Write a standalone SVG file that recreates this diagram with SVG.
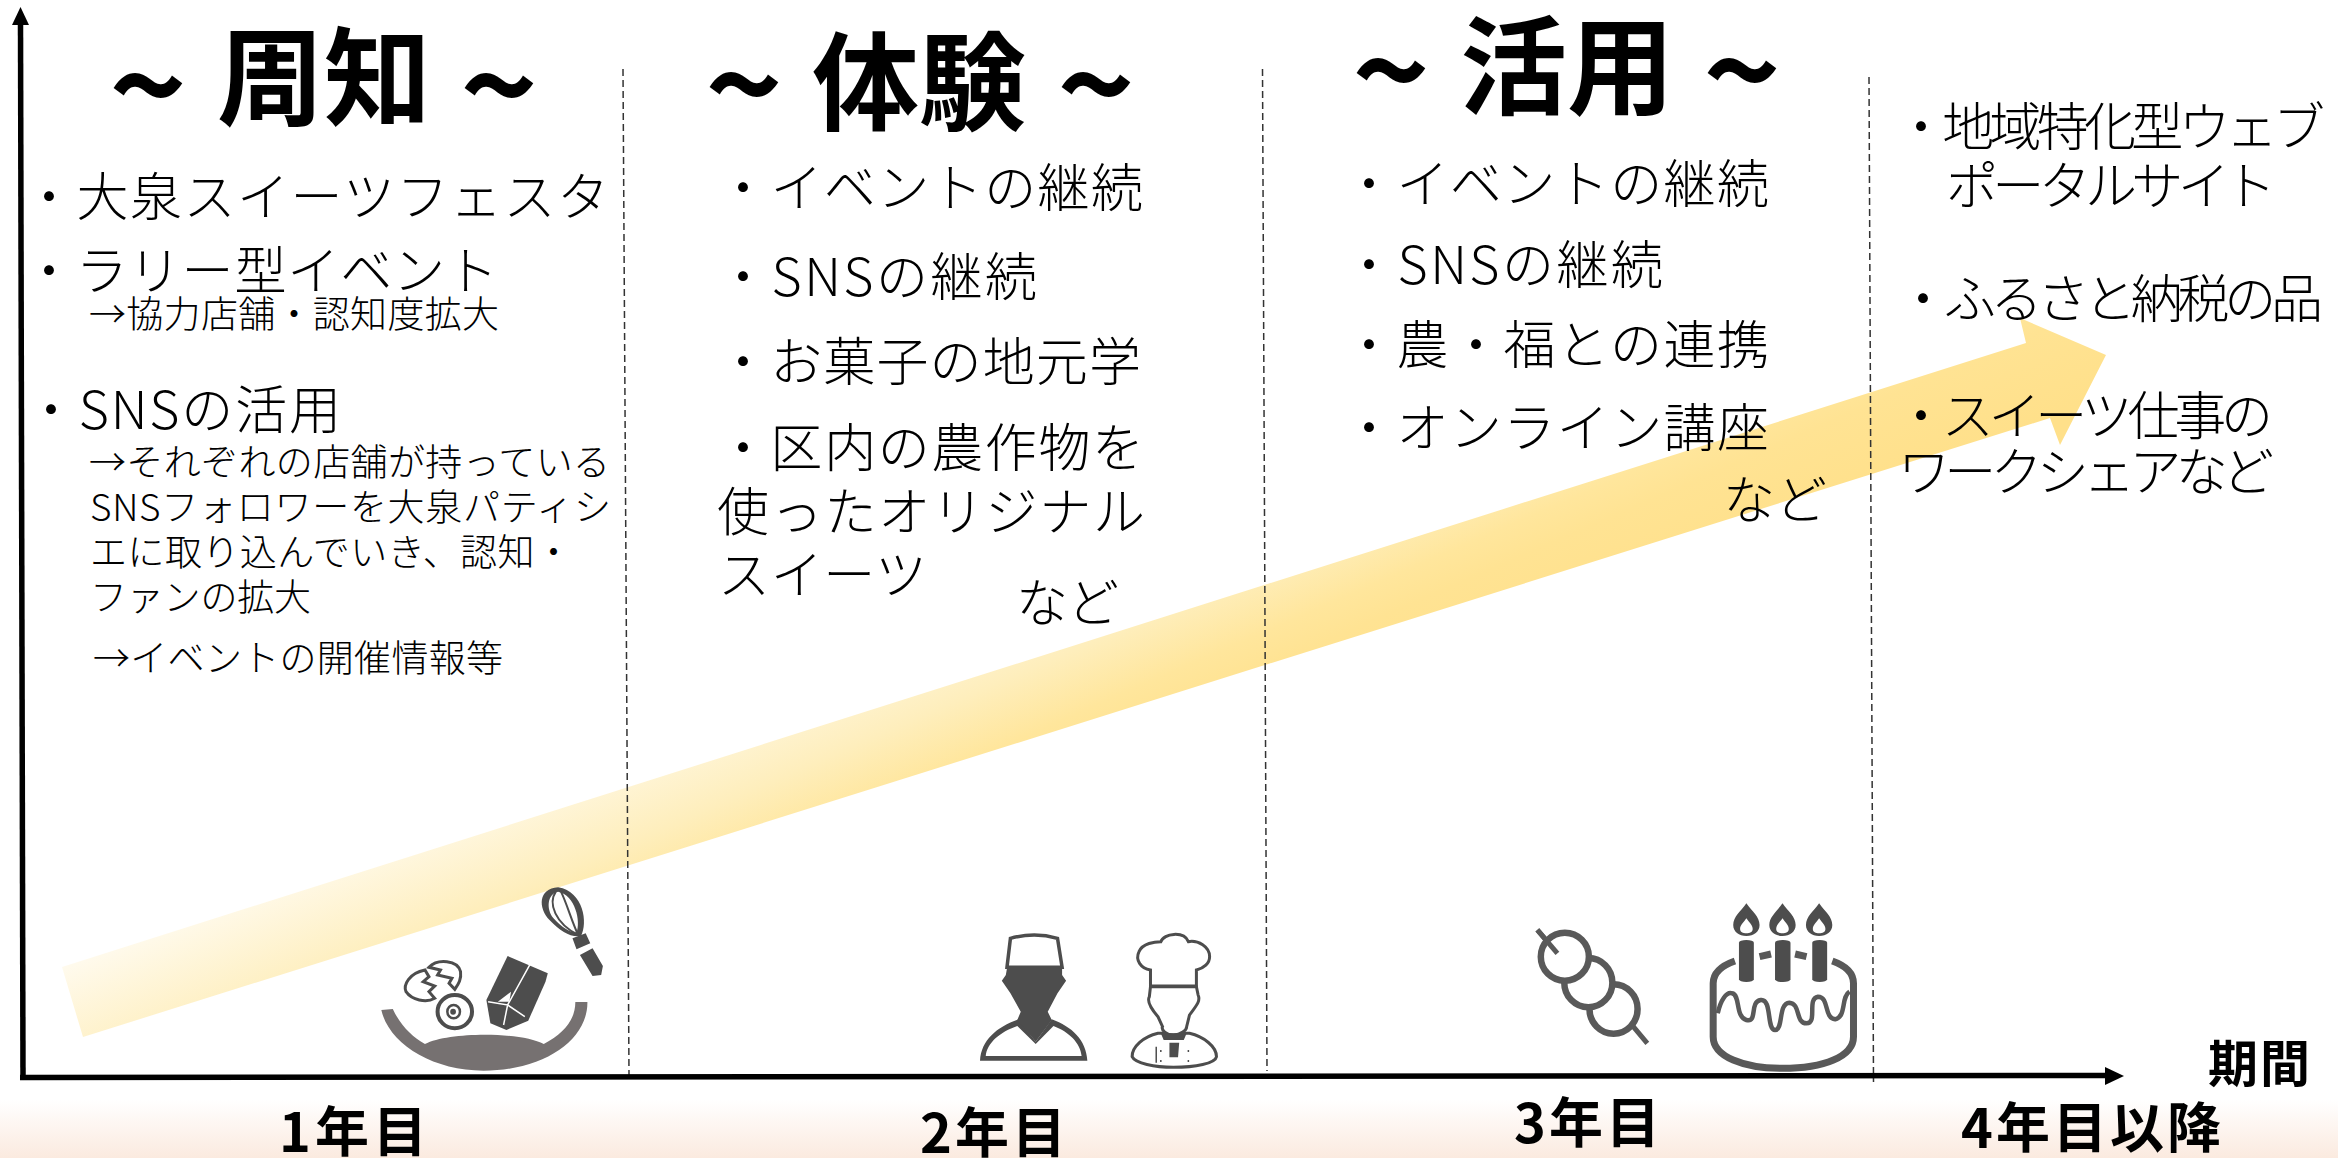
<svg xmlns="http://www.w3.org/2000/svg" xmlns:xlink="http://www.w3.org/1999/xlink" width="2338" height="1158" viewBox="0 0 2338 1158">
<style>
text{font-family:"Noto Sans CJK JP","Noto Sans",sans-serif;fill:#000}
.b{font-size:52px;font-weight:300}
.s{font-size:37px;font-weight:300}
.h{font-size:107px;font-weight:700}
.t{font-size:132px;font-weight:700}
.y{font-size:54px;font-weight:700}
.p{font-size:50px;font-weight:700}
.dash{stroke:#333;stroke-width:1.5;stroke-dasharray:7 4;fill:none}
.ic{vector-effect:non-scaling-stroke}
.d{fill:#4d4d4d;stroke:none}
.w{fill:#fff;stroke:#4d4d4d;vector-effect:non-scaling-stroke}
.wl{fill:none;stroke:#fff;stroke-width:1.5;vector-effect:non-scaling-stroke}
</style>
<defs>
<linearGradient id="band" gradientUnits="userSpaceOnUse" x1="155.400" y1="919.400" x2="273" y2="1190">
<stop offset="0" stop-color="#fffbf0"/><stop offset=".405" stop-color="#feeebc"/><stop offset=".605" stop-color="#ffe69c"/><stop offset=".716" stop-color="#ffe393"/><stop offset="1" stop-color="#ffe08a"/>
</linearGradient>
<linearGradient id="floor" x1="0" y1="0" x2="0" y2="1">
<stop offset="0" stop-color="#fff"/><stop offset="1" stop-color="#fbeadf"/>
</linearGradient>
<path id="flame" d="M0,130 C-10,155 -23,170 -23,195 C-23,215 -13,228 0,228 C13,228 23,215 23,195 C23,170 10,155 0,130 Z M0,175 C-5,188 -11,195 -11,207 C-11,216 -6,220 0,220 C6,220 11,216 11,207 C11,195 5,188 0,175 Z" fill="#4d4d4d" fill-rule="evenodd"/>
</defs>
<rect width="2338" height="1158" fill="#fff"/>
<rect x="0" y="1100" width="2338" height="58" fill="url(#floor)"/>

<g id="growth-arrow"><polygon points="62,967 2026,343 2020,318 2106,355 2060,445 2050,418 83,1037" fill="url(#band)"/></g>

<g id="connectors">
<path class="dash" d="M623,69 L629,1075"/>
<path class="dash" d="M1262.500,69 L1267,1071"/>
<path class="dash" d="M1869,77 L1873.500,1082"/>
<path d="M20.500,22 L23,1078" stroke="#000" stroke-width="5.500" fill="none"/>
<polygon points="20.500,7 29,25 12,25" fill="#000"/>
<path d="M20,1077.500 L2107,1075.500" stroke="#000" stroke-width="5.500" fill="none"/>
<polygon points="2124,1076 2105,1067 2105,1085" fill="#000"/>
</g>

<g id="phase-1">
<text class="h" y="117"><tspan class="t" x="109" y="135">~</tspan> <tspan x="217" y="117">周知</tspan> <tspan class="t" x="460" y="135">~</tspan></text>
<text class="b" x="23" y="216" textLength="586">・大泉スイーツフェスタ</text>
<text class="b" x="23" y="290" textLength="475">・ラリー型イベント</text>
<text class="s" x="89" y="328" textLength="410">→協力店舗・認知度拡大</text>
<text class="b" x="25" y="429" textLength="316">・SNSの活用</text>
<text class="s" x="89" y="476" textLength="521">→それぞれの店舗が持っている</text>
<text class="s" x="90" y="521" textLength="521">SNSフォロワーを大泉パティシ</text>
<text class="s" x="90" y="566" textLength="482">エに取り込んでいき、認知・</text>
<text class="s" x="90" y="611" textLength="221">ファンの拡大</text>
<text class="s" x="93" y="672" textLength="410">→イベントの開催情報等</text>
</g>

<g id="phase-2">
<text class="h" y="122"><tspan class="t" x="705" y="134">~</tspan> <tspan x="812" y="122">体験</tspan> <tspan class="t" x="1057" y="134">~</tspan></text>
<text class="b" x="717" y="207" textLength="426">・イベントの継続</text>
<text class="b" x="717" y="296" textLength="320">・SNSの継続</text>
<text class="b" x="717" y="381" textLength="424">・お菓子の地元学</text>
<text class="b" x="717" y="467" textLength="427">・区内の農作物を</text>
<text class="b" x="717" y="531" textLength="428">使ったオリジナル</text>
<text class="b" x="718" y="594" textLength="209">スイーツ</text>
<text class="b" x="1016" y="622" textLength="103">など</text>
</g>

<g id="phase-3">
<text class="h" y="106"><tspan class="t" x="1352" y="120">~</tspan> <tspan x="1460" y="106">活用</tspan> <tspan class="t" x="1703" y="120">~</tspan></text>
<text class="b" x="1343" y="203" textLength="426">・イベントの継続</text>
<text class="b" x="1343" y="284" textLength="320">・SNSの継続</text>
<text class="b" x="1343" y="364" textLength="426">・農・福との連携</text>
<text class="b" x="1343" y="447" textLength="426">・オンライン講座</text>
<text class="b" x="1723" y="519" textLength="104">など</text>
</g>

<g id="phase-4">
<text class="b" x="1895" y="146" textLength="430">・地域特化型ウェブ</text>
<text class="b" x="1946" y="205" textLength="330">ポータルサイト</text>
<text class="b" x="1897" y="318" textLength="426">・ふるさと納税の品</text>
<text class="b" x="1895" y="435" textLength="378">・スイーツ仕事の</text>
<text class="b" x="1898" y="491" textLength="376">ワークシェアなど</text>
</g>

<g id="year-labels">
<text class="y" x="279" y="1152" textLength="148">1年目</text>
<text class="y" x="920" y="1153" textLength="146">2年目</text>
<text class="y" x="1514" y="1143" textLength="146">3年目</text>
<text class="y" x="1961" y="1148" textLength="260">4年目以降</text>
<text class="p" x="2208" y="1082" textLength="102">期間</text>
</g>

<g id="icon-baking" transform="translate(340,860) scale(.574,.3333)">
<path d="M72,450 L92,447 C105,495 125,530 148,552 C190,515 315,515 355,552 C390,520 410,480 410,426 L431,426 C432,540 355,632 250,632 C160,632 85,550 72,450 Z" fill="#767171"/>
<path class="d" d="M380,82 C345,85 345,145 365,180 C385,215 400,232 420,228 C432,190 425,95 380,82 Z M380,95 C362,100 358,145 372,175 C385,200 400,218 412,218 C420,185 410,105 380,95 Z" fill-rule="evenodd"/>
<path d="M376,95 C362,130 375,190 415,225 M385,95 C395,130 405,190 415,225" fill="none" stroke="#4d4d4d" stroke-width="2" class="ic"/>
<path class="d" d="M405,235 L428,220 L436,250 L412,268 Z M418,285 L440,265 L458,318 L455,345 L440,348 Z"/>
<path class="d" d="M292,288 L362,340 L358,365 L328,482 L290,510 L262,490 L255,420 Z"/>
<path class="wl" d="M332,310 L292,435 L258,425 M292,435 L322,470 M292,435 L285,495"/>
<path d="M275,425 L298,395 L295,425 Z" fill="#fff"/>
<path class="w" stroke-width="3" d="M155,322 C170,295 205,300 210,335 C212,360 205,375 200,388 L190,370 L195,355 L170,345 L175,330 Z"/>
<path class="w" stroke-width="3" d="M148,330 C120,340 110,375 115,395 C125,420 150,430 165,415 L155,395 L165,378 L145,365 L155,350 Z"/>
<ellipse class="w" stroke-width="4" cx="200" cy="455" rx="30" ry="50"/>
<ellipse class="w" stroke-width="2.500" cx="198" cy="455" rx="11" ry="20"/>
<ellipse cx="197" cy="455" rx="5" ry="9" fill="#4d4d4d"/>
</g>

<g id="icon-chef-1" transform="translate(340,860) scale(.574,.3333)">
<path class="d" d="M1182,478 L1212,545 L1240,478 C1275,500 1300,540 1302,602 L1115,602 C1117,540 1145,500 1182,478 Z"/>
<path d="M1180,498 L1212,552 L1243,498 C1270,515 1290,550 1292,588 L1125,588 C1127,550 1150,515 1180,498 Z" fill="#fff"/>
<path class="d" d="M1162,325 L1258,325 L1258,345 L1265,362 L1250,400 L1233,455 L1240,480 L1212,545 L1180,480 L1186,455 L1168,400 L1153,362 L1160,345 Z"/>
<path class="w" stroke-width="3.500" d="M1162,322 L1168,235 Q1210,215 1250,235 L1258,322 Z"/>
</g>

<g id="icon-chef-2" transform="translate(340,860) scale(.574,.3333)">
<path class="w" stroke-width="3" d="M1425,520 C1400,530 1380,560 1380,590 C1385,610 1420,622 1452,622 C1490,622 1525,610 1527,590 C1527,560 1505,530 1480,520 Z"/>
<path class="w" stroke-width="3" d="M1412,380 L1410,410 C1405,425 1415,450 1425,470 L1433,500 C1430,510 1440,525 1452,525 C1465,525 1475,510 1475,500 L1480,465 C1490,440 1500,425 1495,405 L1492,380 Z"/>
<path class="w" stroke-width="3" d="M1412,378 L1412,330 C1395,325 1385,300 1392,275 C1398,250 1420,245 1430,245 C1435,220 1470,212 1478,245 C1495,240 1515,260 1515,290 C1515,310 1505,325 1492,330 L1492,378 Z"/>
<path class="d" d="M1445,548 L1462,548 L1460,592 L1445,592 Z M1430,520 L1475,520 L1470,540 L1435,540 Z"/>
<path d="M1422,560 L1422,608" fill="none" stroke="#4d4d4d" stroke-width="1.500" class="ic"/>
<path d="M1430,570 v6 M1430,600 v6 M1478,570 v6 M1478,600 v6" fill="none" stroke="#4d4d4d" stroke-width="1.500" class="ic"/>
</g>

<g id="icon-dango" transform="translate(1440,860) scale(.5727,.3333)">
<path d="M170,210 L205,280 M335,495 L362,550" fill="none" stroke="#595959" stroke-width="5" class="ic"/>
<ellipse class="w" style="stroke:#595959" stroke-width="6.500" cx="303" cy="447" rx="42" ry="74"/>
<ellipse class="w" style="stroke:#595959" stroke-width="6.500" cx="259" cy="368" rx="42" ry="74"/>
<ellipse class="w" style="stroke:#595959" stroke-width="6.500" cx="218" cy="290" rx="42" ry="72"/>
<path d="M170,210 L205,280" fill="none" stroke="#595959" stroke-width="5" class="ic"/>
</g>

<g id="icon-cake" transform="translate(1440,860) scale(.5727,.3333)">
<path d="M515,303 C495,315 477,335 477,370 L477,530 C477,590 530,625 598,625 C670,625 722,590 722,530 L722,370 C722,335 705,315 685,303 M558,290 L578,282 M620,282 L640,290" fill="none" stroke="#595959" stroke-width="7" class="ic"/>
<path d="M485,460 C490,420 500,395 510,400 C525,405 515,470 535,480 C555,490 540,425 560,420 C580,415 570,510 585,510 C600,510 590,430 610,428 C630,430 620,490 640,490 C660,490 640,415 660,410 C680,410 670,475 690,478 C710,470 700,410 715,395" fill="none" stroke="#595959" stroke-width="4.500" class="ic"/>
<rect x="522" y="240" width="26" height="126" rx="13" ry="8" fill="#4d4d4d"/>
<rect x="585" y="240" width="27" height="126" rx="13" ry="8" fill="#4d4d4d"/>
<rect x="650" y="240" width="26" height="126" rx="13" ry="8" fill="#4d4d4d"/>
<use href="#flame" x="535"/><use href="#flame" x="598"/><use href="#flame" x="662"/>
</g>
</svg>
